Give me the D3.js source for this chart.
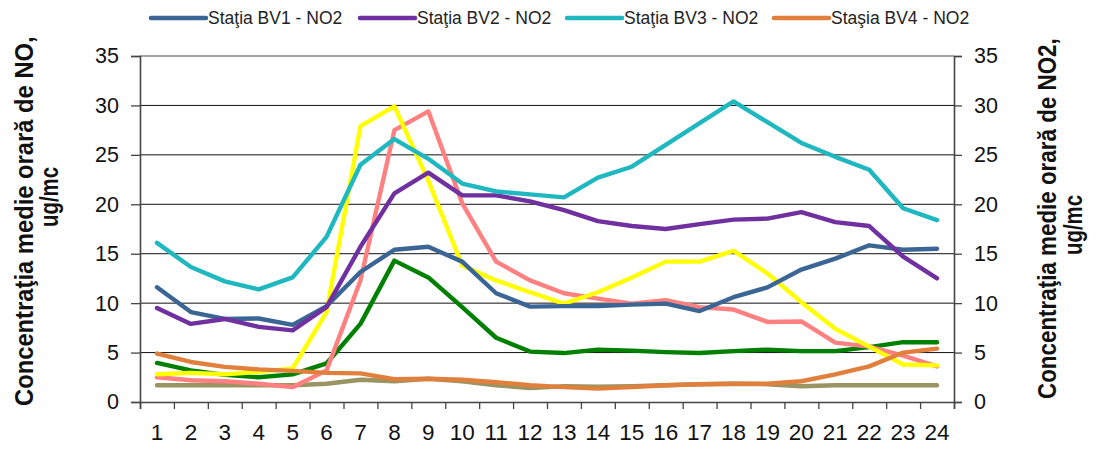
<!DOCTYPE html>
<html>
<head>
<meta charset="utf-8">
<script src="https://cdn.jsdelivr.net/npm/d3@7"></script>
<style>
  body { margin: 0; background: #fff; }
  svg { font-family: "Liberation Sans", Arial, sans-serif; }
</style>
</head>
<body>
<script>
// hours of the day
var hours = d3.range(1, 25);
var yTicks = [0, 5, 10, 15, 20, 25, 30, 35];

// NO series (left axis) - not named in the legend
var noYellow = [2.8,2.95,2.8,3.05,3.4,9.1,27.9,29.9,22.4,13.8,12.3,11.1,9.95,11.1,12.6,14.2,14.2,15.3,13.0,10.1,7.4,5.6,3.8,3.7];
var noSalmon = [2.5,2.2,2.1,1.85,1.5,3.2,12.3,27.5,29.4,20.1,14.2,12.3,11.0,10.45,9.95,10.3,9.6,9.35,8.1,8.15,6.0,5.6,4.7,3.6];
var noGreen  = [3.95,3.2,2.75,2.5,2.8,3.9,7.9,14.3,12.6,9.6,6.5,5.1,4.95,5.3,5.2,5.05,4.95,5.15,5.3,5.15,5.15,5.55,6.05,6.05];
var noOlive  = [1.7,1.7,1.7,1.7,1.7,1.85,2.25,2.1,2.35,2.1,1.7,1.4,1.6,1.55,1.6,1.7,1.8,1.85,1.8,1.6,1.7,1.7,1.7,1.7];

// NO2 series (right axis)
var bv1 = [11.6,9.1,8.4,8.45,7.8,9.7,13.15,15.4,15.7,14.2,11.0,9.65,9.7,9.7,9.85,9.95,9.2,10.6,11.6,13.4,14.5,15.85,15.4,15.5];
var bv2 = [9.5,7.9,8.4,7.6,7.25,9.6,15.7,21.1,23.2,20.9,20.9,20.3,19.4,18.3,17.8,17.5,18.0,18.45,18.55,19.2,18.2,17.8,14.7,12.5];
var bv3 = [16.1,13.65,12.2,11.4,12.6,16.7,24.0,26.6,24.6,22.1,21.3,21.0,20.7,22.7,23.8,26.0,28.2,30.4,28.3,26.2,24.8,23.5,19.6,18.4];
var bv4 = [4.9,4.05,3.55,3.3,3.15,2.95,2.9,2.3,2.35,2.25,2.0,1.7,1.5,1.35,1.5,1.7,1.8,1.85,1.85,2.1,2.8,3.6,5.0,5.4];

var legendNames = ["Staţia BV1 - NO2", "Staţia BV2 - NO2", "Staţia BV3 - NO2", "Staşia BV4 - NO2"];

var width = 1096, height = 450;
var margin = {left:140, right:142, top:56, bottom:48};

var svg = d3.select("body").append("svg")
    .attr("width", width)
    .attr("height", height);

var x = d3.scaleBand()
    .domain(hours)
    .range([margin.left, width - margin.right])
    .paddingInner(0).paddingOuter(0);

var xb = d3.scaleLinear()
    .domain([0, 24])
    .range([margin.left, width - margin.right]);

var y = d3.scaleLinear()
    .domain([0, 35])
    .range([height - margin.bottom, margin.top]);

var y2 = d3.scaleLinear()
    .domain([0, 35])
    .range([height - margin.bottom, margin.top]);

// gridlines
svg.append("g").selectAll("line")
    .data(yTicks.filter(function(d){ return d > 0 && d < 35; }))
    .enter().append("line")
    .attr("x1", margin.left).attr("x2", width - margin.right)
    .attr("y1", function(d){ return y(d); }).attr("y2", function(d){ return y(d); })
    .attr("stroke", "#111").attr("stroke-width", 1);

// top border
svg.append("line")
    .attr("x1", margin.left).attr("x2", width - margin.right)
    .attr("y1", y(35)).attr("y2", y(35))
    .attr("stroke", "#a6a6a6").attr("stroke-width", 2);

// axes
var leftAxis = svg.append("g")
    .attr("transform", "translate(" + margin.left + ",0)")
    .call(d3.axisLeft(y).tickValues(yTicks).tickSize(9).tickPadding(12));

var rightAxis = svg.append("g")
    .attr("transform", "translate(" + (width - margin.right) + ",0)")
    .call(d3.axisRight(y2).tickValues(yTicks).tickSize(8).tickPadding(12));

var bottomTicks = svg.append("g")
    .attr("transform", "translate(0," + (height - margin.bottom) + ")")
    .call(d3.axisBottom(xb).tickValues(d3.range(0, 25)).tickSize(7).tickFormat(""));

var bottomLabels = svg.append("g")
    .attr("transform", "translate(0," + (height - margin.bottom) + ")")
    .call(d3.axisBottom(x).tickSize(0).tickPadding(22));

[leftAxis, rightAxis, bottomTicks].forEach(function(g){
  g.select(".domain").attr("stroke", "#444").attr("stroke-width", 1.6);
  g.selectAll(".tick line").attr("stroke", "#444").attr("stroke-width", 1.3);
});
bottomLabels.select(".domain").remove();

leftAxis.selectAll("text").attr("font-size", 21.5).attr("fill", "#111");
rightAxis.selectAll("text").attr("font-size", 21.5).attr("fill", "#111");
bottomLabels.selectAll("text").attr("font-size", 22.5).attr("fill", "#111");
svg.selectAll(".tick text").attr("font-family", "Liberation Sans, Arial, sans-serif");

// lines
var line = d3.line()
    .x(function(d, i){ return x(hours[i]) + x.bandwidth() / 2; })
    .y(function(d){ return y(d); });

var line2 = d3.line()
    .x(function(d, i){ return x(hours[i]) + x.bandwidth() / 2; })
    .y(function(d){ return y2(d); });

var noSeries = [
  {data: noOlive, color: "#9a9362"},
  {data: noGreen, color: "#008000"},
  {data: noSalmon, color: "#ff8080"},
  {data: noYellow, color: "#ffff00"}
];
var no2Series = [
  {data: bv4, color: "#e0803c"},
  {data: bv1, color: "#3b6595"},
  {data: bv2, color: "#7030a0"},
  {data: bv3, color: "#1fb8c0"}
];

noSeries.forEach(function(s){
  svg.append("path")
      .attr("d", line(s.data))
      .attr("fill", "none")
      .attr("stroke", s.color)
      .attr("stroke-width", 4.4)
      .attr("stroke-linejoin", "round")
      .attr("stroke-linecap", "round");
});
no2Series.forEach(function(s){
  svg.append("path")
      .attr("d", line2(s.data))
      .attr("fill", "none")
      .attr("stroke", s.color)
      .attr("stroke-width", 4.4)
      .attr("stroke-linejoin", "round")
      .attr("stroke-linecap", "round");
});

// legend
var legendColors = ["#3b6595", "#7030a0", "#1fb8c0", "#e0803c"];
var legendX = [151, 360, 567, 774];
var legend = svg.append("g");
legendNames.forEach(function(name, i){
  legend.append("line")
      .attr("x1", legendX[i]).attr("x2", legendX[i] + 55)
      .attr("y1", 18).attr("y2", 18)
      .attr("stroke", legendColors[i]).attr("stroke-width", 4.5)
      .attr("stroke-linecap", "round");
  legend.append("text")
      .attr("x", legendX[i] + 57).attr("y", 24)
      .attr("font-size", 17.5).attr("fill", "#222")
      .text(name);
});

// axis titles - squeezed along their length like the original picture
function squeezed(g, xPos, yPos, len, anchor, txt) {
  var t = g.append("text")
      .attr("font-size", 25)
      .attr("text-anchor", anchor)
      .text(txt);
  var natural = t.node().getComputedTextLength();
  var k = len / natural;
  t.attr("transform", "translate(" + xPos + "," + yPos + ") rotate(-90) scale(" + k + ",1)");
}
function title(xPos1, xPos2, yStart, len1, yMid2, txt1) {
  var g = svg.append("g").attr("font-weight", "bold").attr("fill", "#111");
  squeezed(g, xPos1, yStart, len1, "start", txt1);
  squeezed(g, xPos2, yMid2, 60, "middle", "ug/mc");
}
title(33, 58, 406, 370, 197, "Concentraţia medie orară de NO,");
title(1056, 1082, 399, 361, 225, "Concentraţia medie orară de NO2,");
</script>
</body>
</html>
